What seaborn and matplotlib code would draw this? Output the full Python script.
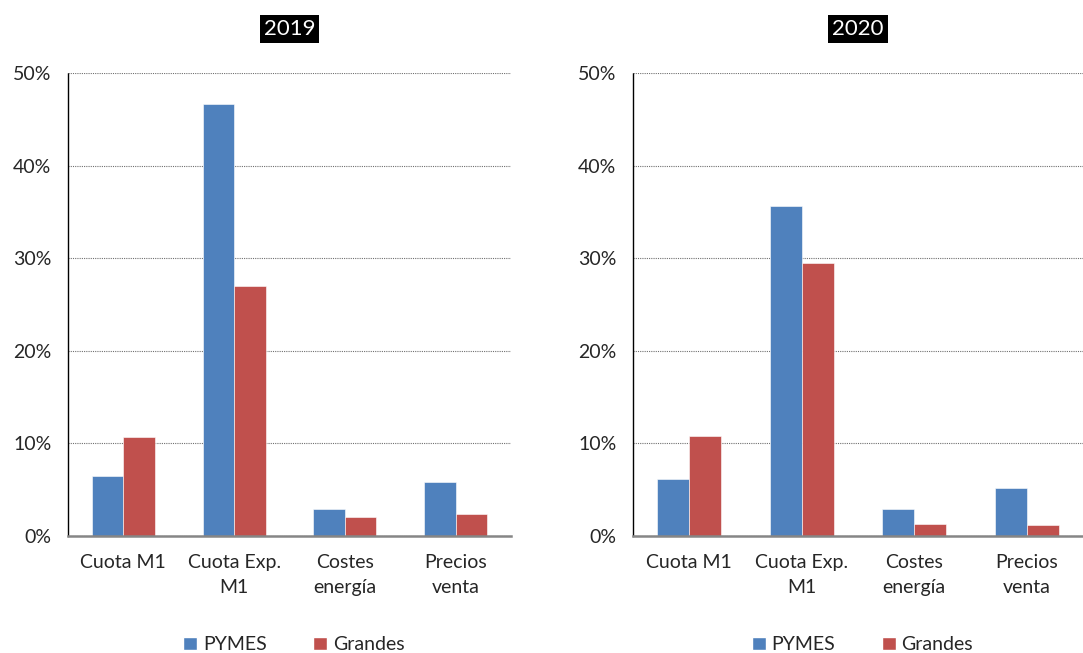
import numpy as np
import pandas as pd
import matplotlib.pyplot as plt
import seaborn as sns
from matplotlib.patches import Patch

# Chart data (shares, in %)
categories = ['Cuota M1', 'Cuota Exp.\nM1', 'Costes\nenergía', 'Precios\nventa']
groups = ['PYMES', 'Grandes']
years = ['2019', '2020']
pymes_2019 = [6.5, 46.7, 2.9, 5.8]
grandes_2019 = [10.7, 27.0, 2.1, 2.4]
pymes_2020 = [6.2, 35.6, 2.9, 5.2]
grandes_2020 = [10.8, 29.5, 1.3, 1.2]

colors = {'PYMES': '#4F81BD', 'Grandes': '#C0504D'}

sns.set_style('white')
plt.rcParams['font.family'] = ['Lato', 'DejaVu Sans']

def make_frame(pymes, grandes):
    rows = []
    for cat, p, g in zip(categories, pymes, grandes):
        rows.append({'cat': cat, 'grupo': 'PYMES', 'valor': p})
        rows.append({'cat': cat, 'grupo': 'Grandes', 'valor': g})
    return pd.DataFrame(rows)

fig = plt.figure(figsize=(10.83, 6.53), dpi=100)
ax_pos = [[68/1083, 117/653, 443/1083, 463/653],
          [633/1083, 117/653, 450/1083, 463/653]]
data_sets = [(pymes_2019, grandes_2019), (pymes_2020, grandes_2020)]

for pos, year, (p, g) in zip(ax_pos, years, data_sets):
    ax = fig.add_axes(pos)
    df = make_frame(p, g)
    sns.barplot(data=df, x='cat', y='valor', hue='grupo', hue_order=groups,
                palette=colors, width=0.57, ax=ax, legend=False,
                saturation=1, edgecolor='white', linewidth=0.4)

    ax.set_xlim(-0.5, 3.5)
    ax.set_ylim(0, 50)
    ax.set_yticks([0, 10, 20, 30, 40, 50])
    ax.set_yticklabels([f'{v}%' for v in [0, 10, 20, 30, 40, 50]], fontsize=14)
    ax.yaxis.grid(True, linestyle=(0, (1, 1)), color='#707070', linewidth=0.8)
    ax.set_axisbelow(True)
    ax.set_xlabel('')
    ax.set_ylabel('')

    # category labels, ticks at category boundaries
    ax.set_xticks(range(len(categories)))
    ax.set_xticklabels(categories, fontsize=14, linespacing=1.6)
    ax.tick_params(axis='x', which='major', length=0, pad=13)
    ax.set_xticks(np.arange(-0.5, 4, 1), minor=True)
    ax.tick_params(axis='x', which='minor', length=6, width=1.5, color='#868686')
    ax.tick_params(axis='y', length=5, width=0.8, color='black', pad=7)

    for side in ['top', 'right']:
        ax.spines[side].set_visible(False)
    ax.spines['bottom'].set_color('#868686')
    ax.spines['bottom'].set_linewidth(1.8)
    ax.spines['left'].set_color('black')
    ax.spines['left'].set_linestyle((0, (1, 1)))
    ax.spines['left'].set_linewidth(1)

    ax.text(0.5, (536 - 29) / 463, year, transform=ax.transAxes,
            ha='center', va='center', color='white', fontsize=16,
            bbox=dict(facecolor='black', edgecolor='none', pad=3))

    handles = [Patch(facecolor=colors[k], label=k) for k in groups]
    ax.legend(handles=handles, loc='center', bbox_to_anchor=(0.51, -0.235),
              ncol=2, frameon=False, fontsize=14, handlelength=0.7,
              handleheight=0.7, handletextpad=0.3, columnspacing=2.4)

fig.savefig('out.png', dpi=100)
